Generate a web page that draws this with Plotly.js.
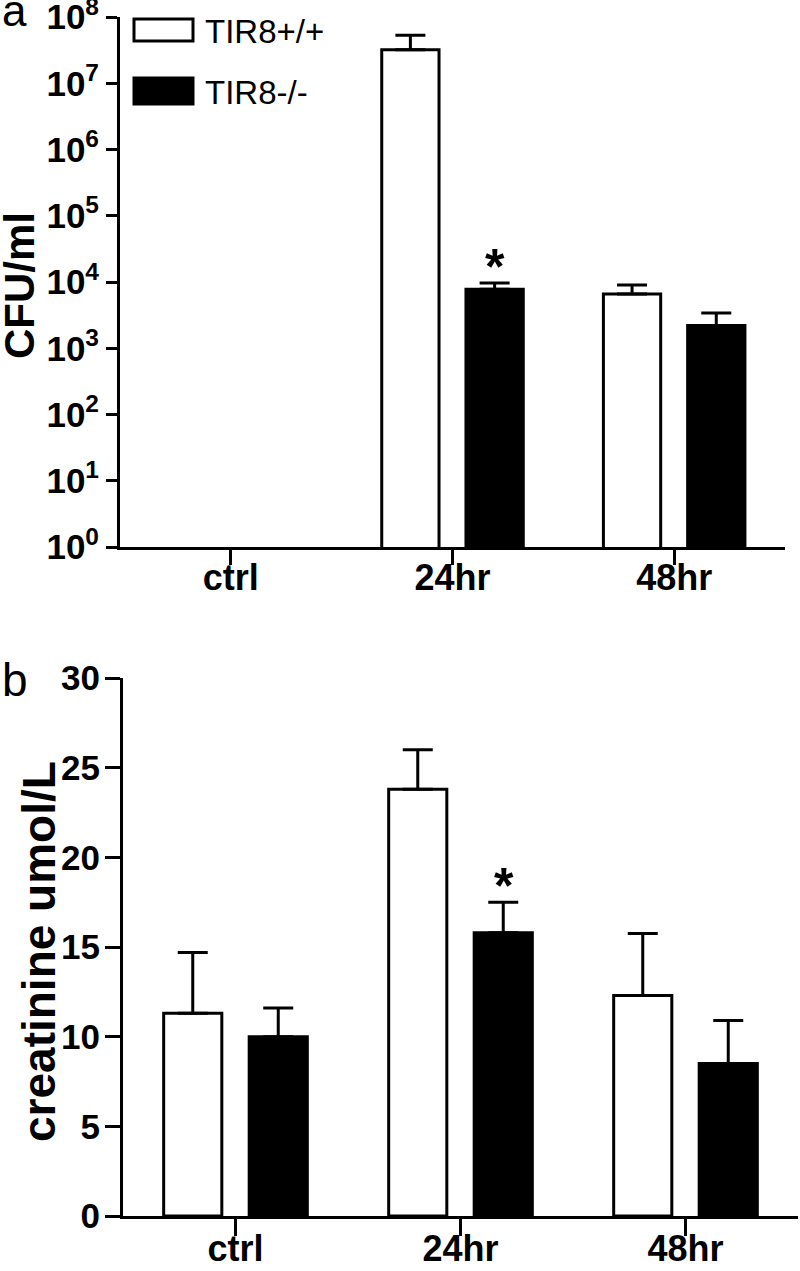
<!DOCTYPE html>
<html>
<head>
<meta charset="utf-8">
<script src="https://cdn.plot.ly/plotly-3.0.1.min.js"></script>
<style>
	body { margin: 0; padding: 0; background: #fff; }
	#graph { width: 800px; height: 1271px; }
</style>
</head>
<body>
<div id="graph"></div>
<script>
"use strict";
// groups on the x axis
var categories = ['ctrl', '24hr', '48hr'];
var seriesNames = ['TIR8+/+', 'TIR8-/-'];

// panel a: CFU/ml (log scale), ctrl has no colonies
var cfuWT = [null, 3.2e7, 6.6e3];
var cfuWTErr = [0, 2.1e7, 2.4e3];
var cfuKO = [null, 7.8e3, 2.2e3];
var cfuKOErr = [0, 1.9e3, 1.2e3];
var cfuTickVals = [1, 10, 100, 1e3, 1e4, 1e5, 1e6, 1e7, 1e8];
var cfuTickText = ['10<sup>0</sup>', '10<sup>1</sup>', '10<sup>2</sup>', '10<sup>3</sup>', '10<sup>4</sup>',
	'10<sup>5</sup>', '10<sup>6</sup>', '10<sup>7</sup>', '10<sup>8</sup>'];

// panel b: creatinine umol/L
var creatWT = [11.3, 23.8, 12.3];
var creatWTErr = [3.4, 2.2, 3.45];
var creatKO = [10.0, 15.8, 8.5];
var creatKOErr = [1.6, 1.7, 2.4];
var creatTickVals = [0, 5, 10, 15, 20, 25, 30];

var W = 800, H = 1271;
function px(x) { return x / W; }
function py(y) { return 1 - y / H; }
function zeros(n) { var a = []; for (var i = 0; i < n; i++) { a.push(0); } return a; }

var narrow = 'Liberation Sans Narrow, Arial Narrow, Liberation Sans, Arial';
var tickFont = { family: narrow, size: 35, color: '#000', weight: 'bold' };
var catFont = { family: narrow, size: 36, color: '#000', weight: 'bold' };

function barTrace(name, y, err, fill, xa, ya) {
	return {
		type: 'bar',
		name: name,
		x: categories,
		y: y,
		xaxis: xa,
		yaxis: ya,
		showlegend: false,
		marker: { color: fill, line: { color: '#000', width: 3 } },
		error_y: {
			type: 'data',
			symmetric: false,
			array: err,
			arrayminus: zeros(err.length),
			color: '#000',
			thickness: 3,
			width: 15
		},
		hoverinfo: 'skip'
	};
}

var data = [
	barTrace(seriesNames[0], cfuWT, cfuWTErr, '#fff', 'x', 'y'),
	barTrace(seriesNames[1], cfuKO, cfuKOErr, '#000', 'x', 'y'),
	barTrace(seriesNames[0], creatWT, creatWTErr, '#fff', 'x2', 'y2'),
	barTrace(seriesNames[1], creatKO, creatKOErr, '#000', 'x2', 'y2')
];

function xAxis(domain, anchor, tlen) {
	return {
		domain: domain,
		anchor: anchor,
		range: [-0.5, 2.5],
		showline: true,
		linecolor: '#000',
		linewidth: 3,
		ticks: 'outside',
		ticklen: tlen,
		tickwidth: 3,
		tickcolor: '#000',
		ticklabelstandoff: -18,
		ticklabeloverflow: 'allow',
		showgrid: false,
		zeroline: false,
		tickfont: catFont,
		fixedrange: true
	};
}

var layout = {
	width: W,
	height: H,
	margin: { l: 0, r: 0, t: 0, b: 0 },
	paper_bgcolor: '#fff',
	plot_bgcolor: '#fff',
	barmode: 'group',
	bargap: 0.24,
	bargroupgap: 0.32,
	showlegend: false,
	xaxis: xAxis([px(120), px(785)], 'y', 15),
	yaxis: {
		domain: [py(547), py(17)],
		anchor: 'x',
		type: 'log',
		range: [0, 8],
		tickvals: cfuTickVals,
		ticktext: cfuTickText,
		showline: true,
		linecolor: '#000',
		linewidth: 3,
		ticks: 'outside',
		ticklen: 11,
		tickwidth: 3,
		tickcolor: '#000',
		ticklabeloverflow: 'allow',
		showgrid: false,
		zeroline: false,
		tickfont: tickFont,
		fixedrange: true
	},
	xaxis2: xAxis([px(123), px(798)], 'y2', 17),
	yaxis2: {
		domain: [py(1216), py(678)],
		anchor: 'x2',
		range: [0, 30],
		tickvals: creatTickVals,
		showline: true,
		linecolor: '#000',
		linewidth: 3,
		ticks: 'outside',
		ticklen: 15,
		tickwidth: 3,
		tickcolor: '#000',
		ticklabelstandoff: -2,
		ticklabeloverflow: 'allow',
		showgrid: false,
		zeroline: false,
		tickfont: tickFont,
		fixedrange: true
	},
	shapes: [
		// legend swatches
		{ type: 'rect', xref: 'paper', yref: 'paper', x0: px(134), x1: px(193), y0: py(41), y1: py(19),
			fillcolor: '#fff', line: { color: '#000', width: 3 } },
		{ type: 'rect', xref: 'paper', yref: 'paper', x0: px(134), x1: px(193), y0: py(104), y1: py(78),
			fillcolor: '#000', line: { color: '#000', width: 3 } }
	],
	annotations: [
		{ text: 'a', xref: 'paper', yref: 'paper', x: px(0), y: py(37), xanchor: 'left', yanchor: 'bottom',
			showarrow: false, font: { family: 'Liberation Sans, Arial', size: 44, color: '#000' } },
		{ text: 'b', xref: 'paper', yref: 'paper', x: px(0), y: py(708), xanchor: 'left', yanchor: 'bottom',
			showarrow: false, font: { family: 'Liberation Sans, Arial', size: 46, color: '#000' } },
		{ text: seriesNames[0], xref: 'paper', yref: 'paper', x: px(203), y: py(31), xanchor: 'left', yanchor: 'middle',
			showarrow: false, font: { family: 'Liberation Sans, Arial', size: 33, color: '#000' } },
		{ text: seriesNames[1], xref: 'paper', yref: 'paper', x: px(203), y: py(92), xanchor: 'left', yanchor: 'middle',
			showarrow: false, font: { family: 'Liberation Sans, Arial', size: 33, color: '#000' } },
		// y titles
		{ text: 'CFU/ml', xref: 'paper', yref: 'paper', x: px(20), y: py(286), xanchor: 'center', yanchor: 'middle',
			textangle: -90, showarrow: false, font: { family: 'Liberation Sans, Arial', size: 42, color: '#000', weight: 'bold' } },
		{ text: 'creatinine umol/L', xref: 'paper', yref: 'paper', x: px(39), y: py(952), xanchor: 'center', yanchor: 'middle',
			textangle: -90, showarrow: false, font: { family: 'Liberation Sans, Arial', size: 46, color: '#000', weight: 'bold' } },
		// significance stars above the TIR8-/- bar at 24hr
		{ text: '*', xref: 'x', yref: 'y', x: categories[1], y: Math.log10(cfuKO[1] + cfuKOErr[1]),
			xshift: 42, yshift: 16, yanchor: 'middle', showarrow: false,
			font: { family: 'Liberation Sans, Arial', size: 50, color: '#000', weight: 'bold' } },
		{ text: '*', xref: 'x2', yref: 'y2', x: categories[1], y: creatKO[1] + creatKOErr[1],
			xshift: 43, yshift: 16, yanchor: 'middle', showarrow: false,
			font: { family: 'Liberation Sans, Arial', size: 50, color: '#000', weight: 'bold' } }
	]
};

Plotly.newPlot(document.getElementById('graph'), data, layout, { displayModeBar: false, staticPlot: true });
</script>
</body>
</html>
